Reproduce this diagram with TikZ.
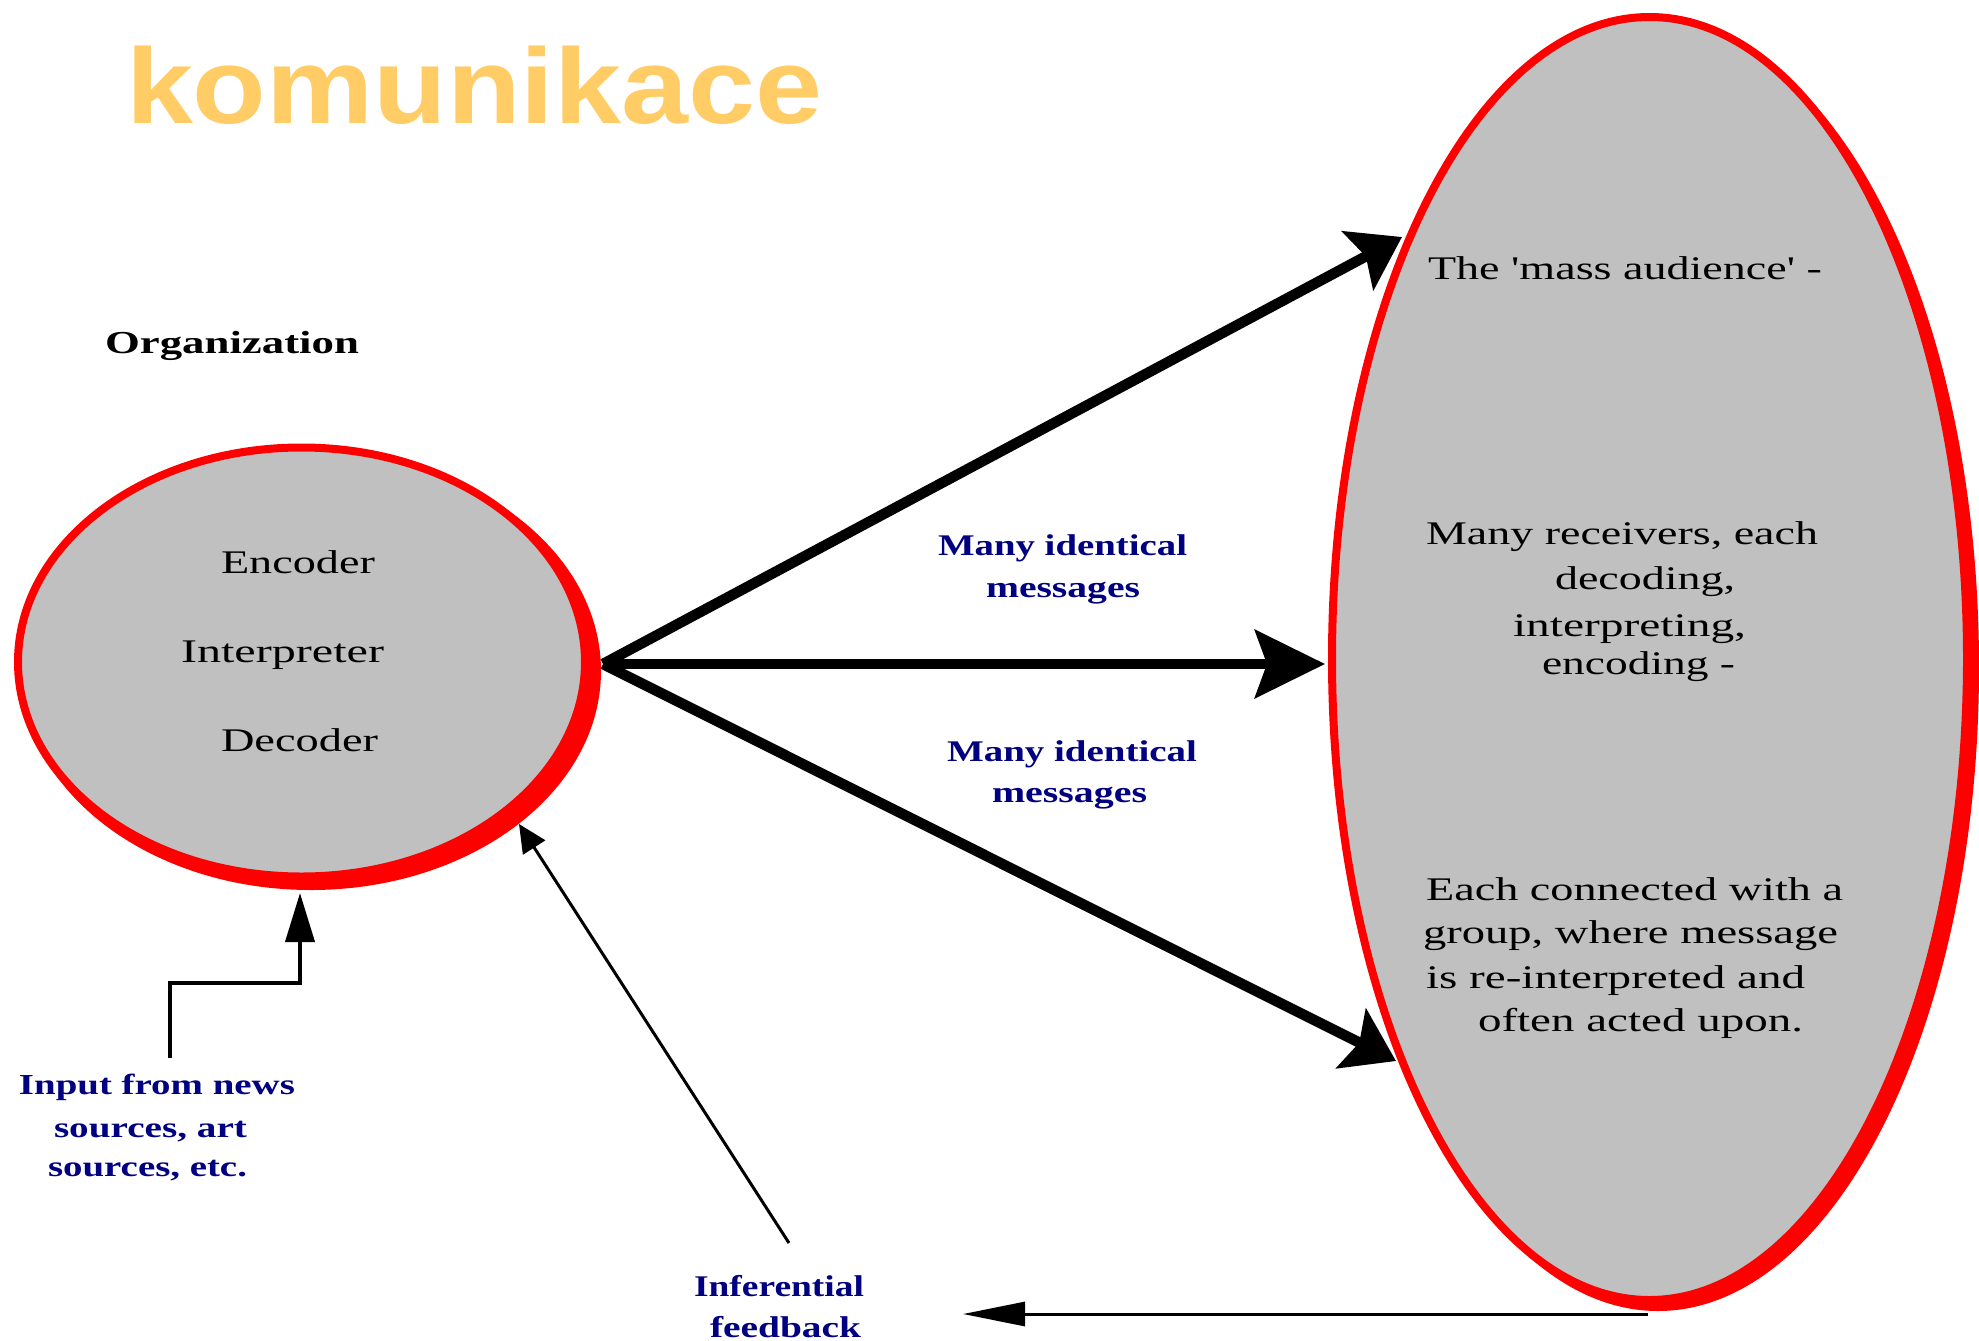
\documentclass[tikz,border=0pt]{standalone}
\usepackage{fontspec}
\setmainfont{Liberation Serif}
\newfontfamily\titlefont{Liberation Sans}
\usepackage{graphicx}
\usetikzlibrary{arrows.meta,shapes.geometric}
\definecolor{ttl}{HTML}{FFCC66}
\definecolor{navy}{HTML}{000080}
\definecolor{ellgray}{HTML}{C0C0C0}
\definecolor{ellred}{HTML}{FF0000}
\newcommand{\fitw}[2]{\resizebox{#1pt}{\height}{#2}}
\begin{document}
\begin{tikzpicture}[x=1pt,y=-1pt,
  txt/.style={anchor=base west, inner sep=0pt, outer sep=0pt},
  blk/.style={txt, font=\fontsize{33}{40}\selectfont, text=black},
  orgl/.style={txt, font=\fontsize{32}{38}\selectfont\bfseries, text=black},
  blu/.style={txt, font=\fontsize{30}{36}\selectfont\bfseries, text=navy},
  ttlstyle/.style={txt, font=\fontsize{107}{120}\selectfont\titlefont\bfseries, text=ttl},
  bubble/.style={ellipse, draw=ellred, fill=ellgray, line width=8pt, inner sep=0pt},
  shadowfill/.style={fill=ellred},
  thick arrow/.style={line width=10.5pt, -{Stealth[length=50pt,width=66pt,inset=9pt]}},
  mid arrow/.style={line width=10pt, -{Stealth[length=70pt,width=68pt,inset=12pt]}},
  thin arrow/.style={line width=3pt},
]
\useasboundingbox (0,0) rectangle (1979,1341);
\clip (0,0) rectangle (1979,1341);
\fill[white] (0,0) rectangle (1979,1341);

% title
\node[ttlstyle] (title) at (126,123) {\fitw{696}{komunikace}};
\node[orgl] (orglbl) at (105,353) {\fitw{254}{Organization}};

% left ellipse
\fill[shadowfill] (311,671) ellipse [x radius=290, y radius=219];
\node[bubble, minimum width=567pt, minimum height=429pt] (org) at (301.5,662) {};
\node[blk] (enc) at (221,573) {\fitw{154}{Encoder}};
\node[blk] (intp) at (181,662) {\fitw{203}{Interpreter}};
\node[blk] (dec) at (221,751) {\fitw{157}{Decoder}};

% right ellipse
\fill[shadowfill] (1658,667) ellipse [x radius=321, y radius=644];
\node[bubble, minimum width=635pt, minimum height=1283pt] (aud) at (1649.5,658.5) {};
\node[blk] (r1) at (1428,279) {\fitw{394}{The \textquotesingle mass audience\textquotesingle\ -}};
\node[blk] (r2) at (1426,544) {\fitw{392}{Many receivers, each}};
\node[blk] (r3) at (1555,589) {\fitw{180}{decoding,}};
\node[blk] (r4) at (1513,636) {\fitw{233}{interpreting,}};
\node[blk] (r5) at (1542,674) {\fitw{193}{encoding -}};
\node[blk] (r6) at (1426,900) {\fitw{417}{Each connected with a}};
\node[blk] (r7) at (1423,943) {\fitw{415}{group, where message}};
\node[blk] (r8) at (1426,988) {\fitw{379}{is re-interpreted and}};
\node[blk] (r9) at (1478,1031) {\fitw{325}{often acted upon.}};

% blue labels
\node[blu] (m1a) at (938,555) {\fitw{249}{Many identical}};
\node[blu] (m1b) at (986,597) {\fitw{154}{messages}};
\node[blu] (m2a) at (947,761) {\fitw{250}{Many identical}};
\node[blu] (m2b) at (992,802) {\fitw{155}{messages}};
\node[blu, font=\fontsize{29}{34}\selectfont\bfseries] (in1) at (19,1094) {\fitw{276}{Input from news}};
\node[blu, font=\fontsize{29}{34}\selectfont\bfseries] (in2) at (54,1137) {\fitw{193}{sources, art}};
\node[blu, font=\fontsize{29}{34}\selectfont\bfseries] (in3) at (48,1176) {\fitw{199}{sources, etc.}};
\node[blu] (inf1) at (694,1296) {\fitw{170}{Inferential}};
\node[blu] (inf2) at (710,1337) {\fitw{151}{feedback}};

% connector end points
\coordinate (apex) at (603,664);
\coordinate (tipT) at (1402,237);
\coordinate (tipM) at (1325,664);
\coordinate (tipB) at (1396,1061);
\coordinate (inS) at (170,1058);
\coordinate (inK) at (300,983);
\coordinate (inT) at (300,893);
\coordinate (infS) at (789,1243);
\coordinate (infT) at (519,824);
\coordinate (fbS) at (1648,1314);
\coordinate (fbT) at (963,1314);

% message arrows
\draw[thick arrow] (apex) -- (tipT);
\draw[mid arrow] (apex) -- (tipM);
\draw[thick arrow] (apex) -- (tipB);

% input arrow
\draw[line width=4pt, -{Triangle[length=49pt,width=29pt]}] (inS) -- (170,983) -- (inK) -- (inT);

% inferential feedback
\draw[thin arrow, -{Triangle[length=28pt,width=26pt]}] (infS) -- (infT);
\draw[thin arrow, -{Triangle[length=62pt,width=24pt]}] (fbS) -- (fbT);
\end{tikzpicture}
\end{document}
